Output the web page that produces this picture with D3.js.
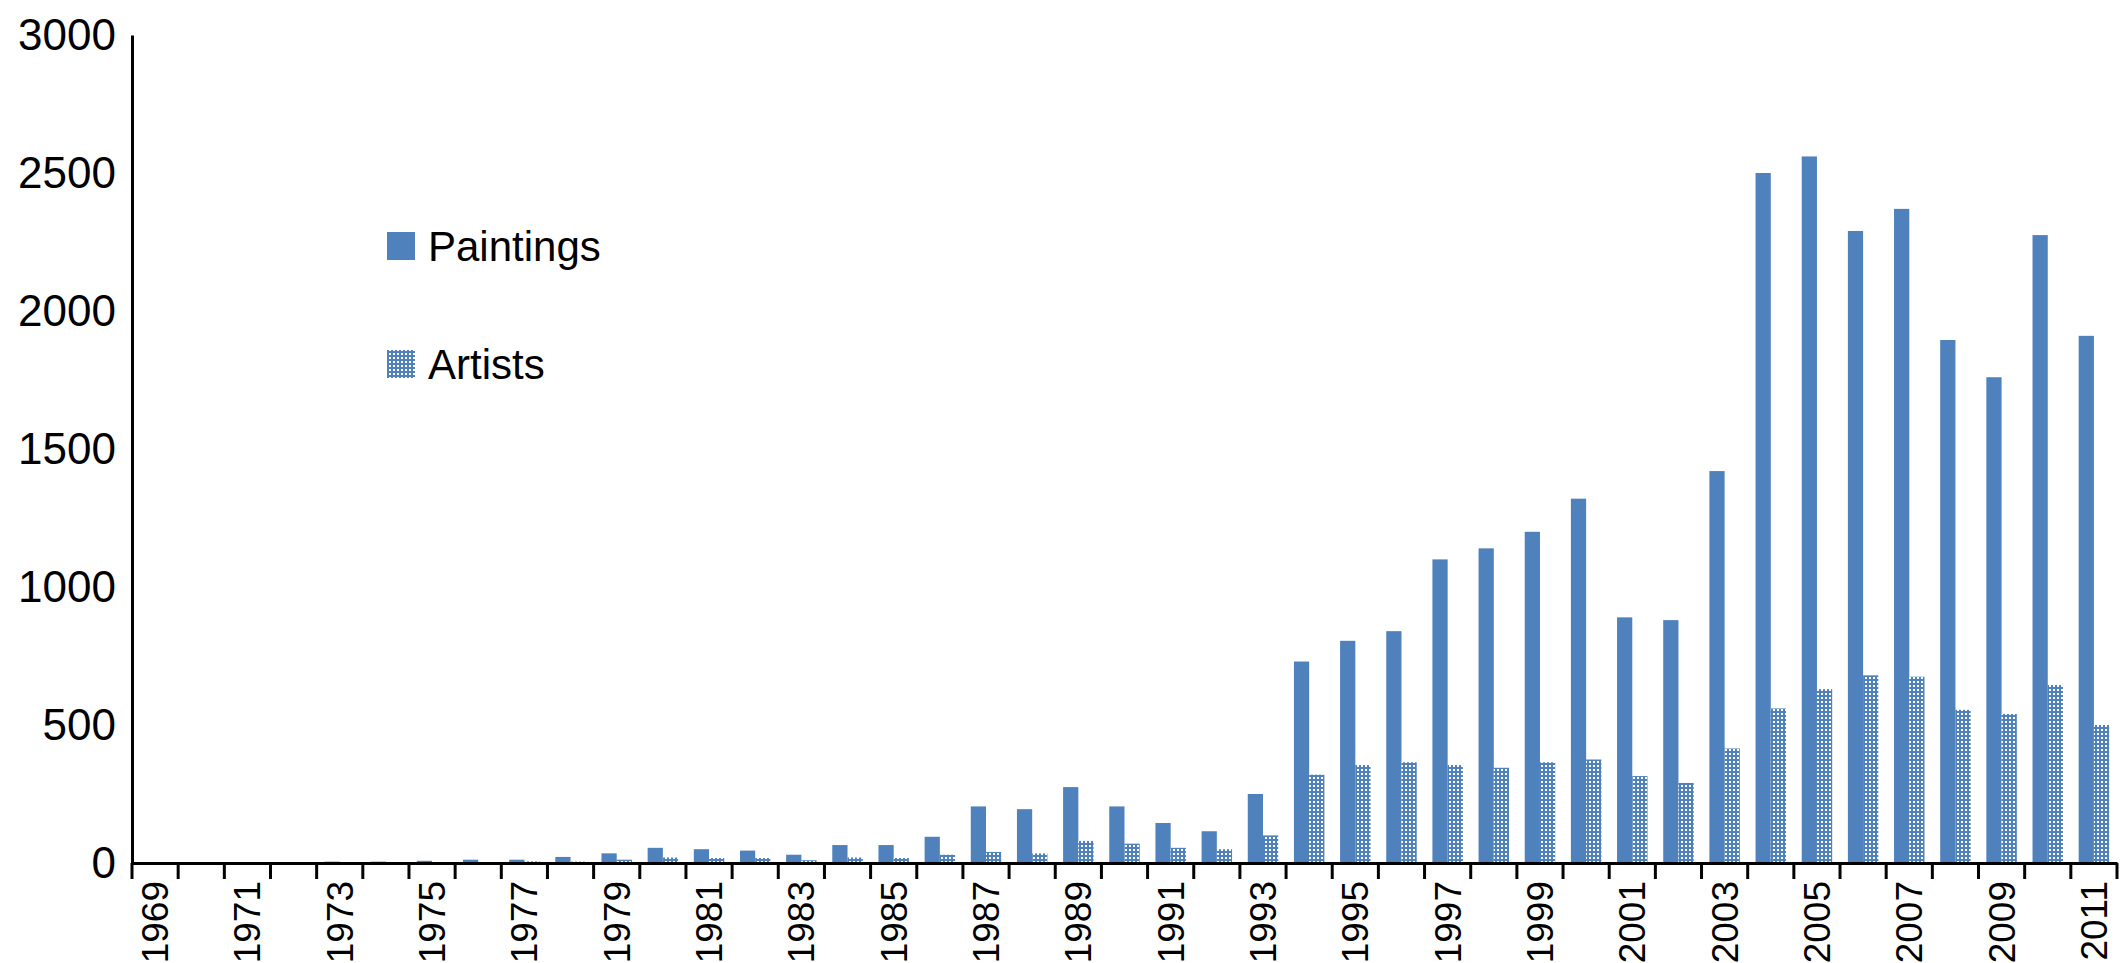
<!DOCTYPE html><html><head><meta charset="utf-8"><script src="https://cdn.jsdelivr.net/npm/d3@7"></script>
<style>body{margin:0;background:#fff}text{font-family:"Liberation Sans",Arial,sans-serif}</style></head><body><svg id="c" width="2128" height="963"></svg>
<script>
const years=d3.range(1969,2012).map(String);
const paintings=[0,0,0,0,5,5,8,12,12,22,35,55,50,45,30,65,65,95,205,195,275,205,145,115,250,730,805,840,1100,1140,1200,1320,890,880,1420,2500,2560,2290,2370,1895,1760,2275,1910];
const artists=[0,0,0,0,2,2,2,3,6,5,12,20,18,18,10,20,18,30,40,35,80,70,55,50,100,320,355,365,355,345,365,375,315,290,415,560,630,680,675,555,540,645,500];
const yTicks=[0,500,1000,1500,2000,2500,3000];
const svg=d3.select("#c");
const L=132,R=2117,T=35,B=863,blue="#4f81bd";
const x=d3.scaleBand().domain(years).range([L,R]);
const y=d3.scaleLinear().domain([0,3000]).range([B,T]);
const defs=svg.append("defs");
const p=defs.append("pattern").attr("id","dots").attr("patternUnits","userSpaceOnUse").attr("width",4).attr("height",4);
p.append("rect").attr("width",4).attr("height",4).attr("fill",blue);
p.append("rect").attr("x",1).attr("y",1).attr("width",2).attr("height",2).attr("fill","#fff");
const bw=x.bandwidth();
svg.selectAll(".p").data(years).join("rect").attr("x",d=>x(d)+bw*0.17).attr("width",bw*0.33)
 .attr("y",(d,i)=>y(paintings[i])).attr("height",(d,i)=>B-y(paintings[i])).attr("fill",blue);
svg.selectAll(".a").data(years).join("rect").attr("x",d=>x(d)+bw*0.5).attr("width",bw*0.33)
 .attr("y",(d,i)=>y(artists[i])).attr("height",(d,i)=>B-y(artists[i])).attr("fill","url(#dots)");
const ya=svg.append("g").attr("transform",`translate(${L},0)`).call(d3.axisLeft(y).tickValues(yTicks).tickFormat(d3.format("d")).tickSize(0).tickPadding(16));
ya.select(".domain").attr("stroke","#000").attr("stroke-width",3);
ya.selectAll("text").attr("font-size",44).attr("fill","#000");
const xa=svg.append("g").attr("transform",`translate(0,${B})`).call(d3.axisBottom(x).tickSize(0).tickFormat(d=>(+d)%2?d:""));
xa.select(".domain").attr("stroke","#000").attr("stroke-width",3);
xa.selectAll("text").attr("font-size",37).attr("fill","#000").attr("transform","rotate(-90)").attr("text-anchor","end").attr("dx","-18").attr("dy","0.35em").attr("x",0).attr("y",0);
svg.append("g").selectAll("line").data(years.concat(["end"])).join("line")
 .attr("x1",d=>d==="end"?R:x(d)).attr("x2",d=>d==="end"?R:x(d)).attr("y1",B).attr("y2",B+16).attr("stroke","#000").attr("stroke-width",3);
const leg=[["Paintings",blue,246],["Artists","url(#dots)",364]];
leg.forEach(([t,f,yy])=>{svg.append("rect").attr("x",387).attr("y",yy-14).attr("width",28).attr("height",28).attr("fill",f);
 svg.append("text").attr("x",428).attr("y",yy).attr("dy","0.35em").attr("font-size",42).text(t);});
</script></body></html>
